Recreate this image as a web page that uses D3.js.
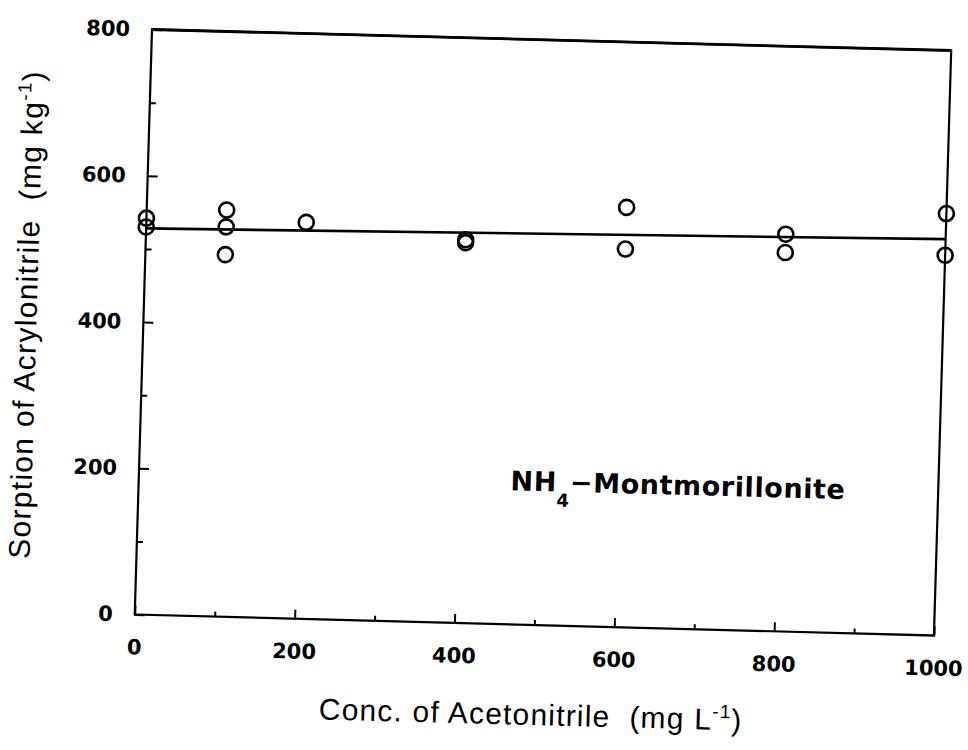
<!DOCTYPE html>
<html>
<head>
<meta charset="utf-8">
<script src="https://cdn.jsdelivr.net/npm/d3@7"></script>
<style>
  body { margin: 0; background: #fff; }
  svg { display: block; }
</style>
</head>
<body>
<div id="viz"></div>
<script>
// sorption data (x = acetonitrile mg/L, y = acrylonitrile mg/kg)
var concX = [0, 0, 100, 100, 100, 200, 400, 400, 600, 600, 800, 800, 1000, 1000];
var sorptionY = [542, 530, 556, 533, 495, 542, 524, 520, 574, 517, 543, 518, 577, 520];
var fitX = [0, 1000];
var fitY = [528, 542];
var xTicks = [0, 200, 400, 600, 800, 1000];
var xMinor = [100, 300, 500, 700, 900];
var yTicks = [0, 200, 400, 600, 800];
var yMinor = [100, 300, 500, 700];

var plot_w = 800
var plot_h = 585
var ink = "#000"
var tick_font = "'DejaVu Sans', sans-serif"
var title_font = "'Liberation Sans', Arial, sans-serif"

var svg = d3.select("#viz")
  .append("svg")
  .attr("width", 968)
  .attr("height", 750);

// the scanned page sits slightly skewed, so the whole plot is drawn in a tilted frame
var g = svg.append("g")
  .attr("transform", "matrix(0.999,0.02625,-0.0295,1,152,29.5)");

var x = d3.scaleLinear().domain([0, 1000]).range([0, plot_w]);
var y = d3.scaleLinear().domain([0, 800]).range([plot_h, 0]);

// frame
g.append("rect")
  .attr("x", 0).attr("y", 0)
  .attr("width", plot_w).attr("height", plot_h)
  .attr("fill", "none")
  .attr("stroke", ink)
  .attr("stroke-width", 2.2);
g.append("line")
  .attr("x1", 0).attr("x2", plot_w).attr("y1", 0).attr("y2", 0)
  .attr("stroke", ink).attr("stroke-width", 2.8);

// axes, ticks pointing inward
g.append("g")
  .attr("transform", "translate(0," + plot_h + ")")
  .call(d3.axisBottom(x).tickValues(xTicks).tickFormat(d3.format("d")).tickSize(-9).tickPadding(25));
g.append("g")
  .attr("transform", "translate(0," + plot_h + ")")
  .call(d3.axisBottom(x).tickValues(xMinor).tickSize(-5).tickFormat(""));

g.append("g")
  .call(d3.axisLeft(y).tickValues(yTicks).tickFormat(d3.format("d")).tickSize(-10).tickPadding(22));
g.append("g")
  .call(d3.axisLeft(y).tickValues(yMinor).tickSize(-6).tickFormat(""));

g.selectAll(".domain").remove();
g.selectAll(".tick line").attr("stroke", ink).attr("stroke-width", 2);
g.selectAll(".tick text")
  .attr("fill", ink)
  .style("font-family", tick_font)
  .style("font-weight", "bold")
  .style("font-size", "21px");

// fitted line
var fit = fitX.map(function(d, i) { return [d, fitY[i]]; });
g.append("path")
  .attr("d", d3.line().x(function(d) { return x(d[0]); }).y(function(d) { return y(d[1]); })(fit))
  .attr("fill", "none")
  .attr("stroke", ink)
  .attr("stroke-width", 2.6);

// open circles
g.selectAll(".pt")
  .data(concX)
  .enter().append("circle")
  .attr("class", "pt")
  .attr("cx", function(d) { return x(d); })
  .attr("cy", function(d, i) { return y(sorptionY[i]); })
  .attr("r", 7.5)
  .attr("fill", "none")
  .attr("stroke", ink)
  .attr("stroke-width", 2.6);

// sample label
var lab = g.append("text")
  .attr("x", 372).attr("y", 451)
  .attr("fill", ink)
  .style("font-family", tick_font)
  .style("font-weight", "bold")
  .style("font-size", "27px")
  .style("letter-spacing", "0.6px");
lab.append("tspan").text("NH");
lab.append("tspan").attr("dy", 15).style("font-size", "18px").text("4");
lab.append("tspan").attr("dy", -15).text("\u2212Montmorillonite");

// axis titles
var xt = g.append("text")
  .attr("x", 399).attr("y", 685)
  .attr("text-anchor", "middle")
  .attr("fill", ink)
  .style("font-family", title_font)
  .style("font-size", "30px")
  .style("letter-spacing", "1.2px");
xt.append("tspan").text("Conc. of Acetonitrile\u00a0\u00a0(mg L");
xt.append("tspan").attr("dy", -12).style("font-size", "19px").text("-1");
xt.append("tspan").attr("dy", 12).text(")");

var yt = g.append("text")
  .attr("transform", "translate(-107,288) rotate(-90)")
  .attr("text-anchor", "middle")
  .attr("fill", ink)
  .style("font-family", title_font)
  .style("font-size", "30px")
  .style("letter-spacing", "1.3px");
yt.append("tspan").text("Sorption of Acrylonitrile\u00a0\u00a0(mg kg");
yt.append("tspan").attr("dy", -12).style("font-size", "19px").text("-1");
yt.append("tspan").attr("dy", 12).text(")");
</script>
</body>
</html>
